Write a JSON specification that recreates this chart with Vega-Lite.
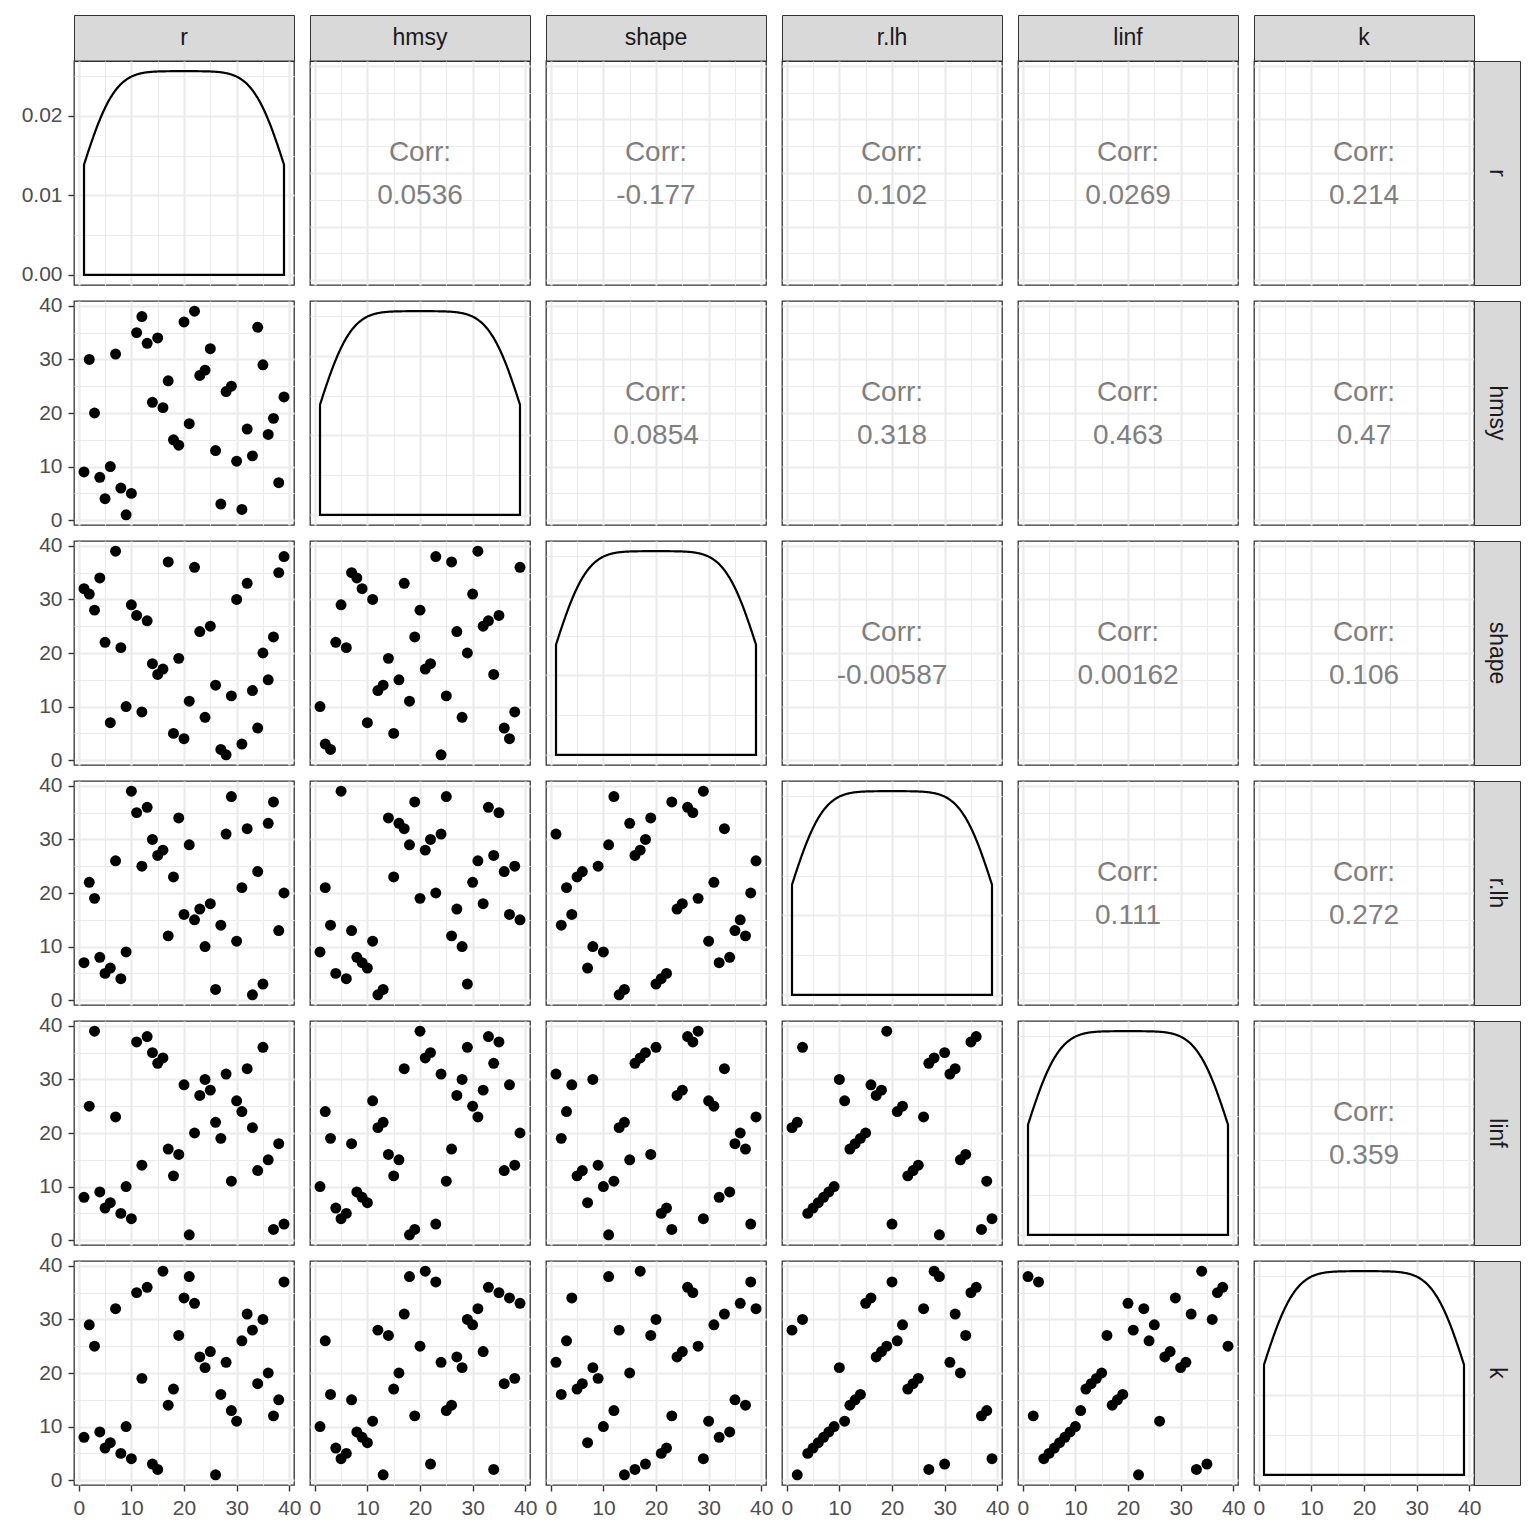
{
"$schema": "https://vega.github.io/schema/vega-lite/v6.json",
"padding": {"left": 20, "top": 14, "right": 15, "bottom": 5},
"columns": 12,
"spacing": 0,
"align": "each",
"bounds": "flush",
"datasets": {"d": [
{"r":1,"hmsy":9,"shape":32,"rlh":7,"linf":8,"k":8},
{"r":2,"hmsy":30,"shape":31,"rlh":22,"linf":25,"k":29},
{"r":3,"hmsy":20,"shape":28,"rlh":19,"linf":39,"k":25},
{"r":4,"hmsy":8,"shape":34,"rlh":8,"linf":9,"k":9},
{"r":5,"hmsy":4,"shape":22,"rlh":5,"linf":6,"k":6},
{"r":6,"hmsy":10,"shape":7,"rlh":6,"linf":7,"k":7},
{"r":7,"hmsy":31,"shape":39,"rlh":26,"linf":23,"k":32},
{"r":8,"hmsy":6,"shape":21,"rlh":4,"linf":5,"k":5},
{"r":9,"hmsy":1,"shape":10,"rlh":9,"linf":10,"k":10},
{"r":10,"hmsy":5,"shape":29,"rlh":39,"linf":4,"k":4},
{"r":11,"hmsy":35,"shape":27,"rlh":35,"linf":37,"k":35},
{"r":12,"hmsy":38,"shape":9,"rlh":25,"linf":14,"k":19},
{"r":13,"hmsy":33,"shape":26,"rlh":36,"linf":38,"k":36},
{"r":14,"hmsy":22,"shape":18,"rlh":30,"linf":35,"k":3},
{"r":15,"hmsy":34,"shape":16,"rlh":27,"linf":33,"k":2},
{"r":16,"hmsy":21,"shape":17,"rlh":28,"linf":34,"k":39},
{"r":17,"hmsy":26,"shape":37,"rlh":12,"linf":17,"k":14},
{"r":18,"hmsy":15,"shape":5,"rlh":23,"linf":12,"k":17},
{"r":19,"hmsy":14,"shape":19,"rlh":34,"linf":16,"k":27},
{"r":20,"hmsy":37,"shape":4,"rlh":16,"linf":29,"k":34},
{"r":21,"hmsy":18,"shape":11,"rlh":29,"linf":1,"k":38},
{"r":22,"hmsy":39,"shape":36,"rlh":15,"linf":20,"k":33},
{"r":23,"hmsy":27,"shape":24,"rlh":17,"linf":27,"k":23},
{"r":24,"hmsy":28,"shape":8,"rlh":10,"linf":30,"k":21},
{"r":25,"hmsy":32,"shape":25,"rlh":18,"linf":28,"k":24},
{"r":26,"hmsy":13,"shape":14,"rlh":2,"linf":22,"k":1},
{"r":27,"hmsy":3,"shape":2,"rlh":14,"linf":19,"k":16},
{"r":28,"hmsy":24,"shape":1,"rlh":31,"linf":31,"k":22},
{"r":29,"hmsy":25,"shape":12,"rlh":38,"linf":11,"k":13},
{"r":30,"hmsy":11,"shape":30,"rlh":11,"linf":26,"k":11},
{"r":31,"hmsy":2,"shape":3,"rlh":21,"linf":24,"k":26},
{"r":32,"hmsy":17,"shape":33,"rlh":32,"linf":32,"k":31},
{"r":33,"hmsy":12,"shape":13,"rlh":1,"linf":21,"k":28},
{"r":34,"hmsy":36,"shape":6,"rlh":24,"linf":13,"k":18},
{"r":35,"hmsy":29,"shape":20,"rlh":3,"linf":36,"k":30},
{"r":36,"hmsy":16,"shape":15,"rlh":33,"linf":15,"k":20},
{"r":37,"hmsy":19,"shape":23,"rlh":37,"linf":2,"k":12},
{"r":38,"hmsy":7,"shape":35,"rlh":13,"linf":18,"k":15},
{"r":39,"hmsy":23,"shape":38,"rlh":20,"linf":3,"k":37}
]},
"concat": [
{"data":{"values":[{"t":"r"}]},"mark":{"type":"text","fontSize":23,"color":"#1A1A1A"},"encoding":{"text":{"field":"t"}},"width":220,"height":46,"view":{"fill":"#D9D9D9","stroke":"#333333"}},
{"data":{"values":[]},"mark":"point","width":16,"height":16,"view":{"stroke":null}},
{"data":{"values":[{"t":"hmsy"}]},"mark":{"type":"text","fontSize":23,"color":"#1A1A1A"},"encoding":{"text":{"field":"t"}},"width":220,"height":46,"view":{"fill":"#D9D9D9","stroke":"#333333"}},
{"data":{"values":[]},"mark":"point","width":16,"height":16,"view":{"stroke":null}},
{"data":{"values":[{"t":"shape"}]},"mark":{"type":"text","fontSize":23,"color":"#1A1A1A"},"encoding":{"text":{"field":"t"}},"width":220,"height":46,"view":{"fill":"#D9D9D9","stroke":"#333333"}},
{"data":{"values":[]},"mark":"point","width":16,"height":16,"view":{"stroke":null}},
{"data":{"values":[{"t":"r.lh"}]},"mark":{"type":"text","fontSize":23,"color":"#1A1A1A"},"encoding":{"text":{"field":"t"}},"width":220,"height":46,"view":{"fill":"#D9D9D9","stroke":"#333333"}},
{"data":{"values":[]},"mark":"point","width":16,"height":16,"view":{"stroke":null}},
{"data":{"values":[{"t":"linf"}]},"mark":{"type":"text","fontSize":23,"color":"#1A1A1A"},"encoding":{"text":{"field":"t"}},"width":220,"height":46,"view":{"fill":"#D9D9D9","stroke":"#333333"}},
{"data":{"values":[]},"mark":"point","width":16,"height":16,"view":{"stroke":null}},
{"data":{"values":[{"t":"k"}]},"mark":{"type":"text","fontSize":23,"color":"#1A1A1A"},"encoding":{"text":{"field":"t"}},"width":220,"height":46,"view":{"fill":"#D9D9D9","stroke":"#333333"}},
{"data":{"values":[]},"mark":"point","width":16,"height":16,"view":{"stroke":null}},

{"data":{"name":"d"},"transform":[{"density":"r","bandwidth":4.93,"extent":[1,39],"steps":300}],"mark":{"type":"area","fillOpacity":0,"stroke":"#000000","strokeWidth":2.2},"encoding":{"x":{"field":"value","type":"quantitative","scale":{"domain":[-0.9,40.9],"nice":false,"zero":false},"axis":{"title":null,"values":[0,5,10,15,20,25,30,35,40],"labels":false,"ticks":false,"gridWidth":{"condition":{"test":"datum.value % 10 === 0","value":2.2},"value":1.1}}},"y":{"field":"density","type":"quantitative","scale":{"domain":[-0.00128,0.02692],"nice":false,"zero":false},"axis":{"title":null,"values":[0,0.005,0.01,0.015,0.02,0.025],"format":".2f","labelExpr":"round(datum.value*1000) % 10 === 0 ? datum.label : ''","tickOpacity":{"condition":{"test":"round(datum.value*1000) % 10 === 0","value":1},"value":0},"gridWidth":{"condition":{"test":"round(datum.value*1000) % 10 === 0","value":2.2},"value":1.1}}},"y2":{"datum":0}}},
{"data":{"values":[]},"mark":"point","width":16,"height":16,"view":{"stroke":null}},
{"layer":[{"data":{"name":"d"},"mark":{"type":"circle","opacity":0},"encoding":{"x":{"field":"hmsy","type":"quantitative","scale":{"domain":[-0.9,40.9],"nice":false,"zero":false},"axis":{"title":null,"values":[0,5,10,15,20,25,30,35,40],"labels":false,"ticks":false,"gridWidth":{"condition":{"test":"datum.value % 10 === 0","value":2.2},"value":1.1}}},"y":{"field":"r","type":"quantitative","scale":{"domain":[-0.9,40.9],"nice":false,"zero":false},"axis":{"title":null,"values":[0,5,10,15,20,25,30,35,40],"labels":false,"ticks":false,"gridWidth":{"condition":{"test":"datum.value % 10 === 0","value":2.2},"value":1.1}}}}},{"data":{"values":[{"t":"Corr:\n0.0536"}]},"mark":{"type":"text","fontSize":28,"color":"#7F7F7F","lineBreak":"\n","lineHeight":43,"baseline":"middle","dy":-20},"encoding":{"text":{"field":"t"}}}]},
{"data":{"values":[]},"mark":"point","width":16,"height":16,"view":{"stroke":null}},
{"layer":[{"data":{"name":"d"},"mark":{"type":"circle","opacity":0},"encoding":{"x":{"field":"shape","type":"quantitative","scale":{"domain":[-0.9,40.9],"nice":false,"zero":false},"axis":{"title":null,"values":[0,5,10,15,20,25,30,35,40],"labels":false,"ticks":false,"gridWidth":{"condition":{"test":"datum.value % 10 === 0","value":2.2},"value":1.1}}},"y":{"field":"r","type":"quantitative","scale":{"domain":[-0.9,40.9],"nice":false,"zero":false},"axis":{"title":null,"values":[0,5,10,15,20,25,30,35,40],"labels":false,"ticks":false,"gridWidth":{"condition":{"test":"datum.value % 10 === 0","value":2.2},"value":1.1}}}}},{"data":{"values":[{"t":"Corr:\n-0.177"}]},"mark":{"type":"text","fontSize":28,"color":"#7F7F7F","lineBreak":"\n","lineHeight":43,"baseline":"middle","dy":-20},"encoding":{"text":{"field":"t"}}}]},
{"data":{"values":[]},"mark":"point","width":16,"height":16,"view":{"stroke":null}},
{"layer":[{"data":{"name":"d"},"mark":{"type":"circle","opacity":0},"encoding":{"x":{"field":"rlh","type":"quantitative","scale":{"domain":[-0.9,40.9],"nice":false,"zero":false},"axis":{"title":null,"values":[0,5,10,15,20,25,30,35,40],"labels":false,"ticks":false,"gridWidth":{"condition":{"test":"datum.value % 10 === 0","value":2.2},"value":1.1}}},"y":{"field":"r","type":"quantitative","scale":{"domain":[-0.9,40.9],"nice":false,"zero":false},"axis":{"title":null,"values":[0,5,10,15,20,25,30,35,40],"labels":false,"ticks":false,"gridWidth":{"condition":{"test":"datum.value % 10 === 0","value":2.2},"value":1.1}}}}},{"data":{"values":[{"t":"Corr:\n0.102"}]},"mark":{"type":"text","fontSize":28,"color":"#7F7F7F","lineBreak":"\n","lineHeight":43,"baseline":"middle","dy":-20},"encoding":{"text":{"field":"t"}}}]},
{"data":{"values":[]},"mark":"point","width":16,"height":16,"view":{"stroke":null}},
{"layer":[{"data":{"name":"d"},"mark":{"type":"circle","opacity":0},"encoding":{"x":{"field":"linf","type":"quantitative","scale":{"domain":[-0.9,40.9],"nice":false,"zero":false},"axis":{"title":null,"values":[0,5,10,15,20,25,30,35,40],"labels":false,"ticks":false,"gridWidth":{"condition":{"test":"datum.value % 10 === 0","value":2.2},"value":1.1}}},"y":{"field":"r","type":"quantitative","scale":{"domain":[-0.9,40.9],"nice":false,"zero":false},"axis":{"title":null,"values":[0,5,10,15,20,25,30,35,40],"labels":false,"ticks":false,"gridWidth":{"condition":{"test":"datum.value % 10 === 0","value":2.2},"value":1.1}}}}},{"data":{"values":[{"t":"Corr:\n0.0269"}]},"mark":{"type":"text","fontSize":28,"color":"#7F7F7F","lineBreak":"\n","lineHeight":43,"baseline":"middle","dy":-20},"encoding":{"text":{"field":"t"}}}]},
{"data":{"values":[]},"mark":"point","width":16,"height":16,"view":{"stroke":null}},
{"layer":[{"data":{"name":"d"},"mark":{"type":"circle","opacity":0},"encoding":{"x":{"field":"k","type":"quantitative","scale":{"domain":[-0.9,40.9],"nice":false,"zero":false},"axis":{"title":null,"values":[0,5,10,15,20,25,30,35,40],"labels":false,"ticks":false,"gridWidth":{"condition":{"test":"datum.value % 10 === 0","value":2.2},"value":1.1}}},"y":{"field":"r","type":"quantitative","scale":{"domain":[-0.9,40.9],"nice":false,"zero":false},"axis":{"title":null,"values":[0,5,10,15,20,25,30,35,40],"labels":false,"ticks":false,"gridWidth":{"condition":{"test":"datum.value % 10 === 0","value":2.2},"value":1.1}}}}},{"data":{"values":[{"t":"Corr:\n0.214"}]},"mark":{"type":"text","fontSize":28,"color":"#7F7F7F","lineBreak":"\n","lineHeight":43,"baseline":"middle","dy":-20},"encoding":{"text":{"field":"t"}}}]},
{"data":{"values":[{"t":"r"}]},"mark":{"type":"text","fontSize":23,"color":"#1A1A1A","angle":90},"encoding":{"text":{"field":"t"}},"width":46,"height":224,"view":{"fill":"#D9D9D9","stroke":"#333333"}},

{"data":{"values":[]},"mark":"point","width":16,"height":16,"view":{"stroke":null}},
{"data":{"values":[]},"mark":"point","width":16,"height":16,"view":{"stroke":null}},
{"data":{"values":[]},"mark":"point","width":16,"height":16,"view":{"stroke":null}},
{"data":{"values":[]},"mark":"point","width":16,"height":16,"view":{"stroke":null}},
{"data":{"values":[]},"mark":"point","width":16,"height":16,"view":{"stroke":null}},
{"data":{"values":[]},"mark":"point","width":16,"height":16,"view":{"stroke":null}},
{"data":{"values":[]},"mark":"point","width":16,"height":16,"view":{"stroke":null}},
{"data":{"values":[]},"mark":"point","width":16,"height":16,"view":{"stroke":null}},
{"data":{"values":[]},"mark":"point","width":16,"height":16,"view":{"stroke":null}},
{"data":{"values":[]},"mark":"point","width":16,"height":16,"view":{"stroke":null}},
{"data":{"values":[]},"mark":"point","width":16,"height":16,"view":{"stroke":null}},
{"data":{"values":[]},"mark":"point","width":16,"height":16,"view":{"stroke":null}},

{"data":{"name":"d"},"mark":{"type":"circle","size":120,"color":"#000000","opacity":1},"encoding":{"x":{"field":"r","type":"quantitative","scale":{"domain":[-0.9,40.9],"nice":false,"zero":false},"axis":{"title":null,"values":[0,5,10,15,20,25,30,35,40],"labels":false,"ticks":false,"gridWidth":{"condition":{"test":"datum.value % 10 === 0","value":2.2},"value":1.1}}},"y":{"field":"hmsy","type":"quantitative","scale":{"domain":[-0.9,40.9],"nice":false,"zero":false},"axis":{"title":null,"values":[0,5,10,15,20,25,30,35,40],"labelExpr":"datum.value % 10 === 0 ? datum.label : ''","tickOpacity":{"condition":{"test":"datum.value % 10 === 0","value":1},"value":0},"gridWidth":{"condition":{"test":"datum.value % 10 === 0","value":2.2},"value":1.1}}}}},
{"data":{"values":[]},"mark":"point","width":16,"height":16,"view":{"stroke":null}},
{"data":{"name":"d"},"transform":[{"density":"hmsy","bandwidth":4.93,"extent":[1,39],"steps":300}],"mark":{"type":"area","fillOpacity":0,"stroke":"#000000","strokeWidth":2.2},"encoding":{"x":{"field":"value","type":"quantitative","scale":{"domain":[-0.9,40.9],"nice":false,"zero":false},"axis":{"title":null,"values":[0,5,10,15,20,25,30,35,40],"labels":false,"ticks":false,"gridWidth":{"condition":{"test":"datum.value % 10 === 0","value":2.2},"value":1.1}}},"y":{"field":"density","type":"quantitative","scale":{"domain":[-0.00128,0.02692],"nice":false,"zero":false},"axis":{"title":null,"values":[0,0.005,0.01,0.015,0.02,0.025],"labels":false,"ticks":false,"gridWidth":{"condition":{"test":"round(datum.value*1000) % 10 === 0","value":2.2},"value":1.1}}},"y2":{"datum":0}}},
{"data":{"values":[]},"mark":"point","width":16,"height":16,"view":{"stroke":null}},
{"layer":[{"data":{"name":"d"},"mark":{"type":"circle","opacity":0},"encoding":{"x":{"field":"shape","type":"quantitative","scale":{"domain":[-0.9,40.9],"nice":false,"zero":false},"axis":{"title":null,"values":[0,5,10,15,20,25,30,35,40],"labels":false,"ticks":false,"gridWidth":{"condition":{"test":"datum.value % 10 === 0","value":2.2},"value":1.1}}},"y":{"field":"hmsy","type":"quantitative","scale":{"domain":[-0.9,40.9],"nice":false,"zero":false},"axis":{"title":null,"values":[0,5,10,15,20,25,30,35,40],"labels":false,"ticks":false,"gridWidth":{"condition":{"test":"datum.value % 10 === 0","value":2.2},"value":1.1}}}}},{"data":{"values":[{"t":"Corr:\n0.0854"}]},"mark":{"type":"text","fontSize":28,"color":"#7F7F7F","lineBreak":"\n","lineHeight":43,"baseline":"middle","dy":-20},"encoding":{"text":{"field":"t"}}}]},
{"data":{"values":[]},"mark":"point","width":16,"height":16,"view":{"stroke":null}},
{"layer":[{"data":{"name":"d"},"mark":{"type":"circle","opacity":0},"encoding":{"x":{"field":"rlh","type":"quantitative","scale":{"domain":[-0.9,40.9],"nice":false,"zero":false},"axis":{"title":null,"values":[0,5,10,15,20,25,30,35,40],"labels":false,"ticks":false,"gridWidth":{"condition":{"test":"datum.value % 10 === 0","value":2.2},"value":1.1}}},"y":{"field":"hmsy","type":"quantitative","scale":{"domain":[-0.9,40.9],"nice":false,"zero":false},"axis":{"title":null,"values":[0,5,10,15,20,25,30,35,40],"labels":false,"ticks":false,"gridWidth":{"condition":{"test":"datum.value % 10 === 0","value":2.2},"value":1.1}}}}},{"data":{"values":[{"t":"Corr:\n0.318"}]},"mark":{"type":"text","fontSize":28,"color":"#7F7F7F","lineBreak":"\n","lineHeight":43,"baseline":"middle","dy":-20},"encoding":{"text":{"field":"t"}}}]},
{"data":{"values":[]},"mark":"point","width":16,"height":16,"view":{"stroke":null}},
{"layer":[{"data":{"name":"d"},"mark":{"type":"circle","opacity":0},"encoding":{"x":{"field":"linf","type":"quantitative","scale":{"domain":[-0.9,40.9],"nice":false,"zero":false},"axis":{"title":null,"values":[0,5,10,15,20,25,30,35,40],"labels":false,"ticks":false,"gridWidth":{"condition":{"test":"datum.value % 10 === 0","value":2.2},"value":1.1}}},"y":{"field":"hmsy","type":"quantitative","scale":{"domain":[-0.9,40.9],"nice":false,"zero":false},"axis":{"title":null,"values":[0,5,10,15,20,25,30,35,40],"labels":false,"ticks":false,"gridWidth":{"condition":{"test":"datum.value % 10 === 0","value":2.2},"value":1.1}}}}},{"data":{"values":[{"t":"Corr:\n0.463"}]},"mark":{"type":"text","fontSize":28,"color":"#7F7F7F","lineBreak":"\n","lineHeight":43,"baseline":"middle","dy":-20},"encoding":{"text":{"field":"t"}}}]},
{"data":{"values":[]},"mark":"point","width":16,"height":16,"view":{"stroke":null}},
{"layer":[{"data":{"name":"d"},"mark":{"type":"circle","opacity":0},"encoding":{"x":{"field":"k","type":"quantitative","scale":{"domain":[-0.9,40.9],"nice":false,"zero":false},"axis":{"title":null,"values":[0,5,10,15,20,25,30,35,40],"labels":false,"ticks":false,"gridWidth":{"condition":{"test":"datum.value % 10 === 0","value":2.2},"value":1.1}}},"y":{"field":"hmsy","type":"quantitative","scale":{"domain":[-0.9,40.9],"nice":false,"zero":false},"axis":{"title":null,"values":[0,5,10,15,20,25,30,35,40],"labels":false,"ticks":false,"gridWidth":{"condition":{"test":"datum.value % 10 === 0","value":2.2},"value":1.1}}}}},{"data":{"values":[{"t":"Corr:\n0.47"}]},"mark":{"type":"text","fontSize":28,"color":"#7F7F7F","lineBreak":"\n","lineHeight":43,"baseline":"middle","dy":-20},"encoding":{"text":{"field":"t"}}}]},
{"data":{"values":[{"t":"hmsy"}]},"mark":{"type":"text","fontSize":23,"color":"#1A1A1A","angle":90},"encoding":{"text":{"field":"t"}},"width":46,"height":224,"view":{"fill":"#D9D9D9","stroke":"#333333"}},

{"data":{"values":[]},"mark":"point","width":16,"height":16,"view":{"stroke":null}},
{"data":{"values":[]},"mark":"point","width":16,"height":16,"view":{"stroke":null}},
{"data":{"values":[]},"mark":"point","width":16,"height":16,"view":{"stroke":null}},
{"data":{"values":[]},"mark":"point","width":16,"height":16,"view":{"stroke":null}},
{"data":{"values":[]},"mark":"point","width":16,"height":16,"view":{"stroke":null}},
{"data":{"values":[]},"mark":"point","width":16,"height":16,"view":{"stroke":null}},
{"data":{"values":[]},"mark":"point","width":16,"height":16,"view":{"stroke":null}},
{"data":{"values":[]},"mark":"point","width":16,"height":16,"view":{"stroke":null}},
{"data":{"values":[]},"mark":"point","width":16,"height":16,"view":{"stroke":null}},
{"data":{"values":[]},"mark":"point","width":16,"height":16,"view":{"stroke":null}},
{"data":{"values":[]},"mark":"point","width":16,"height":16,"view":{"stroke":null}},
{"data":{"values":[]},"mark":"point","width":16,"height":16,"view":{"stroke":null}},

{"data":{"name":"d"},"mark":{"type":"circle","size":120,"color":"#000000","opacity":1},"encoding":{"x":{"field":"r","type":"quantitative","scale":{"domain":[-0.9,40.9],"nice":false,"zero":false},"axis":{"title":null,"values":[0,5,10,15,20,25,30,35,40],"labels":false,"ticks":false,"gridWidth":{"condition":{"test":"datum.value % 10 === 0","value":2.2},"value":1.1}}},"y":{"field":"shape","type":"quantitative","scale":{"domain":[-0.9,40.9],"nice":false,"zero":false},"axis":{"title":null,"values":[0,5,10,15,20,25,30,35,40],"labelExpr":"datum.value % 10 === 0 ? datum.label : ''","tickOpacity":{"condition":{"test":"datum.value % 10 === 0","value":1},"value":0},"gridWidth":{"condition":{"test":"datum.value % 10 === 0","value":2.2},"value":1.1}}}}},
{"data":{"values":[]},"mark":"point","width":16,"height":16,"view":{"stroke":null}},
{"data":{"name":"d"},"mark":{"type":"circle","size":120,"color":"#000000","opacity":1},"encoding":{"x":{"field":"hmsy","type":"quantitative","scale":{"domain":[-0.9,40.9],"nice":false,"zero":false},"axis":{"title":null,"values":[0,5,10,15,20,25,30,35,40],"labels":false,"ticks":false,"gridWidth":{"condition":{"test":"datum.value % 10 === 0","value":2.2},"value":1.1}}},"y":{"field":"shape","type":"quantitative","scale":{"domain":[-0.9,40.9],"nice":false,"zero":false},"axis":{"title":null,"values":[0,5,10,15,20,25,30,35,40],"labels":false,"ticks":false,"gridWidth":{"condition":{"test":"datum.value % 10 === 0","value":2.2},"value":1.1}}}}},
{"data":{"values":[]},"mark":"point","width":16,"height":16,"view":{"stroke":null}},
{"data":{"name":"d"},"transform":[{"density":"shape","bandwidth":4.93,"extent":[1,39],"steps":300}],"mark":{"type":"area","fillOpacity":0,"stroke":"#000000","strokeWidth":2.2},"encoding":{"x":{"field":"value","type":"quantitative","scale":{"domain":[-0.9,40.9],"nice":false,"zero":false},"axis":{"title":null,"values":[0,5,10,15,20,25,30,35,40],"labels":false,"ticks":false,"gridWidth":{"condition":{"test":"datum.value % 10 === 0","value":2.2},"value":1.1}}},"y":{"field":"density","type":"quantitative","scale":{"domain":[-0.00128,0.02692],"nice":false,"zero":false},"axis":{"title":null,"values":[0,0.005,0.01,0.015,0.02,0.025],"labels":false,"ticks":false,"gridWidth":{"condition":{"test":"round(datum.value*1000) % 10 === 0","value":2.2},"value":1.1}}},"y2":{"datum":0}}},
{"data":{"values":[]},"mark":"point","width":16,"height":16,"view":{"stroke":null}},
{"layer":[{"data":{"name":"d"},"mark":{"type":"circle","opacity":0},"encoding":{"x":{"field":"rlh","type":"quantitative","scale":{"domain":[-0.9,40.9],"nice":false,"zero":false},"axis":{"title":null,"values":[0,5,10,15,20,25,30,35,40],"labels":false,"ticks":false,"gridWidth":{"condition":{"test":"datum.value % 10 === 0","value":2.2},"value":1.1}}},"y":{"field":"shape","type":"quantitative","scale":{"domain":[-0.9,40.9],"nice":false,"zero":false},"axis":{"title":null,"values":[0,5,10,15,20,25,30,35,40],"labels":false,"ticks":false,"gridWidth":{"condition":{"test":"datum.value % 10 === 0","value":2.2},"value":1.1}}}}},{"data":{"values":[{"t":"Corr:\n-0.00587"}]},"mark":{"type":"text","fontSize":28,"color":"#7F7F7F","lineBreak":"\n","lineHeight":43,"baseline":"middle","dy":-20},"encoding":{"text":{"field":"t"}}}]},
{"data":{"values":[]},"mark":"point","width":16,"height":16,"view":{"stroke":null}},
{"layer":[{"data":{"name":"d"},"mark":{"type":"circle","opacity":0},"encoding":{"x":{"field":"linf","type":"quantitative","scale":{"domain":[-0.9,40.9],"nice":false,"zero":false},"axis":{"title":null,"values":[0,5,10,15,20,25,30,35,40],"labels":false,"ticks":false,"gridWidth":{"condition":{"test":"datum.value % 10 === 0","value":2.2},"value":1.1}}},"y":{"field":"shape","type":"quantitative","scale":{"domain":[-0.9,40.9],"nice":false,"zero":false},"axis":{"title":null,"values":[0,5,10,15,20,25,30,35,40],"labels":false,"ticks":false,"gridWidth":{"condition":{"test":"datum.value % 10 === 0","value":2.2},"value":1.1}}}}},{"data":{"values":[{"t":"Corr:\n0.00162"}]},"mark":{"type":"text","fontSize":28,"color":"#7F7F7F","lineBreak":"\n","lineHeight":43,"baseline":"middle","dy":-20},"encoding":{"text":{"field":"t"}}}]},
{"data":{"values":[]},"mark":"point","width":16,"height":16,"view":{"stroke":null}},
{"layer":[{"data":{"name":"d"},"mark":{"type":"circle","opacity":0},"encoding":{"x":{"field":"k","type":"quantitative","scale":{"domain":[-0.9,40.9],"nice":false,"zero":false},"axis":{"title":null,"values":[0,5,10,15,20,25,30,35,40],"labels":false,"ticks":false,"gridWidth":{"condition":{"test":"datum.value % 10 === 0","value":2.2},"value":1.1}}},"y":{"field":"shape","type":"quantitative","scale":{"domain":[-0.9,40.9],"nice":false,"zero":false},"axis":{"title":null,"values":[0,5,10,15,20,25,30,35,40],"labels":false,"ticks":false,"gridWidth":{"condition":{"test":"datum.value % 10 === 0","value":2.2},"value":1.1}}}}},{"data":{"values":[{"t":"Corr:\n0.106"}]},"mark":{"type":"text","fontSize":28,"color":"#7F7F7F","lineBreak":"\n","lineHeight":43,"baseline":"middle","dy":-20},"encoding":{"text":{"field":"t"}}}]},
{"data":{"values":[{"t":"shape"}]},"mark":{"type":"text","fontSize":23,"color":"#1A1A1A","angle":90},"encoding":{"text":{"field":"t"}},"width":46,"height":224,"view":{"fill":"#D9D9D9","stroke":"#333333"}},

{"data":{"values":[]},"mark":"point","width":16,"height":16,"view":{"stroke":null}},
{"data":{"values":[]},"mark":"point","width":16,"height":16,"view":{"stroke":null}},
{"data":{"values":[]},"mark":"point","width":16,"height":16,"view":{"stroke":null}},
{"data":{"values":[]},"mark":"point","width":16,"height":16,"view":{"stroke":null}},
{"data":{"values":[]},"mark":"point","width":16,"height":16,"view":{"stroke":null}},
{"data":{"values":[]},"mark":"point","width":16,"height":16,"view":{"stroke":null}},
{"data":{"values":[]},"mark":"point","width":16,"height":16,"view":{"stroke":null}},
{"data":{"values":[]},"mark":"point","width":16,"height":16,"view":{"stroke":null}},
{"data":{"values":[]},"mark":"point","width":16,"height":16,"view":{"stroke":null}},
{"data":{"values":[]},"mark":"point","width":16,"height":16,"view":{"stroke":null}},
{"data":{"values":[]},"mark":"point","width":16,"height":16,"view":{"stroke":null}},
{"data":{"values":[]},"mark":"point","width":16,"height":16,"view":{"stroke":null}},

{"data":{"name":"d"},"mark":{"type":"circle","size":120,"color":"#000000","opacity":1},"encoding":{"x":{"field":"r","type":"quantitative","scale":{"domain":[-0.9,40.9],"nice":false,"zero":false},"axis":{"title":null,"values":[0,5,10,15,20,25,30,35,40],"labels":false,"ticks":false,"gridWidth":{"condition":{"test":"datum.value % 10 === 0","value":2.2},"value":1.1}}},"y":{"field":"rlh","type":"quantitative","scale":{"domain":[-0.9,40.9],"nice":false,"zero":false},"axis":{"title":null,"values":[0,5,10,15,20,25,30,35,40],"labelExpr":"datum.value % 10 === 0 ? datum.label : ''","tickOpacity":{"condition":{"test":"datum.value % 10 === 0","value":1},"value":0},"gridWidth":{"condition":{"test":"datum.value % 10 === 0","value":2.2},"value":1.1}}}}},
{"data":{"values":[]},"mark":"point","width":16,"height":16,"view":{"stroke":null}},
{"data":{"name":"d"},"mark":{"type":"circle","size":120,"color":"#000000","opacity":1},"encoding":{"x":{"field":"hmsy","type":"quantitative","scale":{"domain":[-0.9,40.9],"nice":false,"zero":false},"axis":{"title":null,"values":[0,5,10,15,20,25,30,35,40],"labels":false,"ticks":false,"gridWidth":{"condition":{"test":"datum.value % 10 === 0","value":2.2},"value":1.1}}},"y":{"field":"rlh","type":"quantitative","scale":{"domain":[-0.9,40.9],"nice":false,"zero":false},"axis":{"title":null,"values":[0,5,10,15,20,25,30,35,40],"labels":false,"ticks":false,"gridWidth":{"condition":{"test":"datum.value % 10 === 0","value":2.2},"value":1.1}}}}},
{"data":{"values":[]},"mark":"point","width":16,"height":16,"view":{"stroke":null}},
{"data":{"name":"d"},"mark":{"type":"circle","size":120,"color":"#000000","opacity":1},"encoding":{"x":{"field":"shape","type":"quantitative","scale":{"domain":[-0.9,40.9],"nice":false,"zero":false},"axis":{"title":null,"values":[0,5,10,15,20,25,30,35,40],"labels":false,"ticks":false,"gridWidth":{"condition":{"test":"datum.value % 10 === 0","value":2.2},"value":1.1}}},"y":{"field":"rlh","type":"quantitative","scale":{"domain":[-0.9,40.9],"nice":false,"zero":false},"axis":{"title":null,"values":[0,5,10,15,20,25,30,35,40],"labels":false,"ticks":false,"gridWidth":{"condition":{"test":"datum.value % 10 === 0","value":2.2},"value":1.1}}}}},
{"data":{"values":[]},"mark":"point","width":16,"height":16,"view":{"stroke":null}},
{"data":{"name":"d"},"transform":[{"density":"rlh","bandwidth":4.93,"extent":[1,39],"steps":300}],"mark":{"type":"area","fillOpacity":0,"stroke":"#000000","strokeWidth":2.2},"encoding":{"x":{"field":"value","type":"quantitative","scale":{"domain":[-0.9,40.9],"nice":false,"zero":false},"axis":{"title":null,"values":[0,5,10,15,20,25,30,35,40],"labels":false,"ticks":false,"gridWidth":{"condition":{"test":"datum.value % 10 === 0","value":2.2},"value":1.1}}},"y":{"field":"density","type":"quantitative","scale":{"domain":[-0.00128,0.02692],"nice":false,"zero":false},"axis":{"title":null,"values":[0,0.005,0.01,0.015,0.02,0.025],"labels":false,"ticks":false,"gridWidth":{"condition":{"test":"round(datum.value*1000) % 10 === 0","value":2.2},"value":1.1}}},"y2":{"datum":0}}},
{"data":{"values":[]},"mark":"point","width":16,"height":16,"view":{"stroke":null}},
{"layer":[{"data":{"name":"d"},"mark":{"type":"circle","opacity":0},"encoding":{"x":{"field":"linf","type":"quantitative","scale":{"domain":[-0.9,40.9],"nice":false,"zero":false},"axis":{"title":null,"values":[0,5,10,15,20,25,30,35,40],"labels":false,"ticks":false,"gridWidth":{"condition":{"test":"datum.value % 10 === 0","value":2.2},"value":1.1}}},"y":{"field":"rlh","type":"quantitative","scale":{"domain":[-0.9,40.9],"nice":false,"zero":false},"axis":{"title":null,"values":[0,5,10,15,20,25,30,35,40],"labels":false,"ticks":false,"gridWidth":{"condition":{"test":"datum.value % 10 === 0","value":2.2},"value":1.1}}}}},{"data":{"values":[{"t":"Corr:\n0.111"}]},"mark":{"type":"text","fontSize":28,"color":"#7F7F7F","lineBreak":"\n","lineHeight":43,"baseline":"middle","dy":-20},"encoding":{"text":{"field":"t"}}}]},
{"data":{"values":[]},"mark":"point","width":16,"height":16,"view":{"stroke":null}},
{"layer":[{"data":{"name":"d"},"mark":{"type":"circle","opacity":0},"encoding":{"x":{"field":"k","type":"quantitative","scale":{"domain":[-0.9,40.9],"nice":false,"zero":false},"axis":{"title":null,"values":[0,5,10,15,20,25,30,35,40],"labels":false,"ticks":false,"gridWidth":{"condition":{"test":"datum.value % 10 === 0","value":2.2},"value":1.1}}},"y":{"field":"rlh","type":"quantitative","scale":{"domain":[-0.9,40.9],"nice":false,"zero":false},"axis":{"title":null,"values":[0,5,10,15,20,25,30,35,40],"labels":false,"ticks":false,"gridWidth":{"condition":{"test":"datum.value % 10 === 0","value":2.2},"value":1.1}}}}},{"data":{"values":[{"t":"Corr:\n0.272"}]},"mark":{"type":"text","fontSize":28,"color":"#7F7F7F","lineBreak":"\n","lineHeight":43,"baseline":"middle","dy":-20},"encoding":{"text":{"field":"t"}}}]},
{"data":{"values":[{"t":"r.lh"}]},"mark":{"type":"text","fontSize":23,"color":"#1A1A1A","angle":90},"encoding":{"text":{"field":"t"}},"width":46,"height":224,"view":{"fill":"#D9D9D9","stroke":"#333333"}},

{"data":{"values":[]},"mark":"point","width":16,"height":16,"view":{"stroke":null}},
{"data":{"values":[]},"mark":"point","width":16,"height":16,"view":{"stroke":null}},
{"data":{"values":[]},"mark":"point","width":16,"height":16,"view":{"stroke":null}},
{"data":{"values":[]},"mark":"point","width":16,"height":16,"view":{"stroke":null}},
{"data":{"values":[]},"mark":"point","width":16,"height":16,"view":{"stroke":null}},
{"data":{"values":[]},"mark":"point","width":16,"height":16,"view":{"stroke":null}},
{"data":{"values":[]},"mark":"point","width":16,"height":16,"view":{"stroke":null}},
{"data":{"values":[]},"mark":"point","width":16,"height":16,"view":{"stroke":null}},
{"data":{"values":[]},"mark":"point","width":16,"height":16,"view":{"stroke":null}},
{"data":{"values":[]},"mark":"point","width":16,"height":16,"view":{"stroke":null}},
{"data":{"values":[]},"mark":"point","width":16,"height":16,"view":{"stroke":null}},
{"data":{"values":[]},"mark":"point","width":16,"height":16,"view":{"stroke":null}},

{"data":{"name":"d"},"mark":{"type":"circle","size":120,"color":"#000000","opacity":1},"encoding":{"x":{"field":"r","type":"quantitative","scale":{"domain":[-0.9,40.9],"nice":false,"zero":false},"axis":{"title":null,"values":[0,5,10,15,20,25,30,35,40],"labels":false,"ticks":false,"gridWidth":{"condition":{"test":"datum.value % 10 === 0","value":2.2},"value":1.1}}},"y":{"field":"linf","type":"quantitative","scale":{"domain":[-0.9,40.9],"nice":false,"zero":false},"axis":{"title":null,"values":[0,5,10,15,20,25,30,35,40],"labelExpr":"datum.value % 10 === 0 ? datum.label : ''","tickOpacity":{"condition":{"test":"datum.value % 10 === 0","value":1},"value":0},"gridWidth":{"condition":{"test":"datum.value % 10 === 0","value":2.2},"value":1.1}}}}},
{"data":{"values":[]},"mark":"point","width":16,"height":16,"view":{"stroke":null}},
{"data":{"name":"d"},"mark":{"type":"circle","size":120,"color":"#000000","opacity":1},"encoding":{"x":{"field":"hmsy","type":"quantitative","scale":{"domain":[-0.9,40.9],"nice":false,"zero":false},"axis":{"title":null,"values":[0,5,10,15,20,25,30,35,40],"labels":false,"ticks":false,"gridWidth":{"condition":{"test":"datum.value % 10 === 0","value":2.2},"value":1.1}}},"y":{"field":"linf","type":"quantitative","scale":{"domain":[-0.9,40.9],"nice":false,"zero":false},"axis":{"title":null,"values":[0,5,10,15,20,25,30,35,40],"labels":false,"ticks":false,"gridWidth":{"condition":{"test":"datum.value % 10 === 0","value":2.2},"value":1.1}}}}},
{"data":{"values":[]},"mark":"point","width":16,"height":16,"view":{"stroke":null}},
{"data":{"name":"d"},"mark":{"type":"circle","size":120,"color":"#000000","opacity":1},"encoding":{"x":{"field":"shape","type":"quantitative","scale":{"domain":[-0.9,40.9],"nice":false,"zero":false},"axis":{"title":null,"values":[0,5,10,15,20,25,30,35,40],"labels":false,"ticks":false,"gridWidth":{"condition":{"test":"datum.value % 10 === 0","value":2.2},"value":1.1}}},"y":{"field":"linf","type":"quantitative","scale":{"domain":[-0.9,40.9],"nice":false,"zero":false},"axis":{"title":null,"values":[0,5,10,15,20,25,30,35,40],"labels":false,"ticks":false,"gridWidth":{"condition":{"test":"datum.value % 10 === 0","value":2.2},"value":1.1}}}}},
{"data":{"values":[]},"mark":"point","width":16,"height":16,"view":{"stroke":null}},
{"data":{"name":"d"},"mark":{"type":"circle","size":120,"color":"#000000","opacity":1},"encoding":{"x":{"field":"rlh","type":"quantitative","scale":{"domain":[-0.9,40.9],"nice":false,"zero":false},"axis":{"title":null,"values":[0,5,10,15,20,25,30,35,40],"labels":false,"ticks":false,"gridWidth":{"condition":{"test":"datum.value % 10 === 0","value":2.2},"value":1.1}}},"y":{"field":"linf","type":"quantitative","scale":{"domain":[-0.9,40.9],"nice":false,"zero":false},"axis":{"title":null,"values":[0,5,10,15,20,25,30,35,40],"labels":false,"ticks":false,"gridWidth":{"condition":{"test":"datum.value % 10 === 0","value":2.2},"value":1.1}}}}},
{"data":{"values":[]},"mark":"point","width":16,"height":16,"view":{"stroke":null}},
{"data":{"name":"d"},"transform":[{"density":"linf","bandwidth":4.93,"extent":[1,39],"steps":300}],"mark":{"type":"area","fillOpacity":0,"stroke":"#000000","strokeWidth":2.2},"encoding":{"x":{"field":"value","type":"quantitative","scale":{"domain":[-0.9,40.9],"nice":false,"zero":false},"axis":{"title":null,"values":[0,5,10,15,20,25,30,35,40],"labels":false,"ticks":false,"gridWidth":{"condition":{"test":"datum.value % 10 === 0","value":2.2},"value":1.1}}},"y":{"field":"density","type":"quantitative","scale":{"domain":[-0.00128,0.02692],"nice":false,"zero":false},"axis":{"title":null,"values":[0,0.005,0.01,0.015,0.02,0.025],"labels":false,"ticks":false,"gridWidth":{"condition":{"test":"round(datum.value*1000) % 10 === 0","value":2.2},"value":1.1}}},"y2":{"datum":0}}},
{"data":{"values":[]},"mark":"point","width":16,"height":16,"view":{"stroke":null}},
{"layer":[{"data":{"name":"d"},"mark":{"type":"circle","opacity":0},"encoding":{"x":{"field":"k","type":"quantitative","scale":{"domain":[-0.9,40.9],"nice":false,"zero":false},"axis":{"title":null,"values":[0,5,10,15,20,25,30,35,40],"labels":false,"ticks":false,"gridWidth":{"condition":{"test":"datum.value % 10 === 0","value":2.2},"value":1.1}}},"y":{"field":"linf","type":"quantitative","scale":{"domain":[-0.9,40.9],"nice":false,"zero":false},"axis":{"title":null,"values":[0,5,10,15,20,25,30,35,40],"labels":false,"ticks":false,"gridWidth":{"condition":{"test":"datum.value % 10 === 0","value":2.2},"value":1.1}}}}},{"data":{"values":[{"t":"Corr:\n0.359"}]},"mark":{"type":"text","fontSize":28,"color":"#7F7F7F","lineBreak":"\n","lineHeight":43,"baseline":"middle","dy":-20},"encoding":{"text":{"field":"t"}}}]},
{"data":{"values":[{"t":"linf"}]},"mark":{"type":"text","fontSize":23,"color":"#1A1A1A","angle":90},"encoding":{"text":{"field":"t"}},"width":46,"height":224,"view":{"fill":"#D9D9D9","stroke":"#333333"}},

{"data":{"values":[]},"mark":"point","width":16,"height":16,"view":{"stroke":null}},
{"data":{"values":[]},"mark":"point","width":16,"height":16,"view":{"stroke":null}},
{"data":{"values":[]},"mark":"point","width":16,"height":16,"view":{"stroke":null}},
{"data":{"values":[]},"mark":"point","width":16,"height":16,"view":{"stroke":null}},
{"data":{"values":[]},"mark":"point","width":16,"height":16,"view":{"stroke":null}},
{"data":{"values":[]},"mark":"point","width":16,"height":16,"view":{"stroke":null}},
{"data":{"values":[]},"mark":"point","width":16,"height":16,"view":{"stroke":null}},
{"data":{"values":[]},"mark":"point","width":16,"height":16,"view":{"stroke":null}},
{"data":{"values":[]},"mark":"point","width":16,"height":16,"view":{"stroke":null}},
{"data":{"values":[]},"mark":"point","width":16,"height":16,"view":{"stroke":null}},
{"data":{"values":[]},"mark":"point","width":16,"height":16,"view":{"stroke":null}},
{"data":{"values":[]},"mark":"point","width":16,"height":16,"view":{"stroke":null}},

{"data":{"name":"d"},"mark":{"type":"circle","size":120,"color":"#000000","opacity":1},"encoding":{"x":{"field":"r","type":"quantitative","scale":{"domain":[-0.9,40.9],"nice":false,"zero":false},"axis":{"title":null,"values":[0,5,10,15,20,25,30,35,40],"labelExpr":"datum.value % 10 === 0 ? datum.label : ''","tickOpacity":{"condition":{"test":"datum.value % 10 === 0","value":1},"value":0},"gridWidth":{"condition":{"test":"datum.value % 10 === 0","value":2.2},"value":1.1}}},"y":{"field":"k","type":"quantitative","scale":{"domain":[-0.9,40.9],"nice":false,"zero":false},"axis":{"title":null,"values":[0,5,10,15,20,25,30,35,40],"labelExpr":"datum.value % 10 === 0 ? datum.label : ''","tickOpacity":{"condition":{"test":"datum.value % 10 === 0","value":1},"value":0},"gridWidth":{"condition":{"test":"datum.value % 10 === 0","value":2.2},"value":1.1}}}}},
{"data":{"values":[]},"mark":"point","width":16,"height":16,"view":{"stroke":null}},
{"data":{"name":"d"},"mark":{"type":"circle","size":120,"color":"#000000","opacity":1},"encoding":{"x":{"field":"hmsy","type":"quantitative","scale":{"domain":[-0.9,40.9],"nice":false,"zero":false},"axis":{"title":null,"values":[0,5,10,15,20,25,30,35,40],"labelExpr":"datum.value % 10 === 0 ? datum.label : ''","tickOpacity":{"condition":{"test":"datum.value % 10 === 0","value":1},"value":0},"gridWidth":{"condition":{"test":"datum.value % 10 === 0","value":2.2},"value":1.1}}},"y":{"field":"k","type":"quantitative","scale":{"domain":[-0.9,40.9],"nice":false,"zero":false},"axis":{"title":null,"values":[0,5,10,15,20,25,30,35,40],"labels":false,"ticks":false,"gridWidth":{"condition":{"test":"datum.value % 10 === 0","value":2.2},"value":1.1}}}}},
{"data":{"values":[]},"mark":"point","width":16,"height":16,"view":{"stroke":null}},
{"data":{"name":"d"},"mark":{"type":"circle","size":120,"color":"#000000","opacity":1},"encoding":{"x":{"field":"shape","type":"quantitative","scale":{"domain":[-0.9,40.9],"nice":false,"zero":false},"axis":{"title":null,"values":[0,5,10,15,20,25,30,35,40],"labelExpr":"datum.value % 10 === 0 ? datum.label : ''","tickOpacity":{"condition":{"test":"datum.value % 10 === 0","value":1},"value":0},"gridWidth":{"condition":{"test":"datum.value % 10 === 0","value":2.2},"value":1.1}}},"y":{"field":"k","type":"quantitative","scale":{"domain":[-0.9,40.9],"nice":false,"zero":false},"axis":{"title":null,"values":[0,5,10,15,20,25,30,35,40],"labels":false,"ticks":false,"gridWidth":{"condition":{"test":"datum.value % 10 === 0","value":2.2},"value":1.1}}}}},
{"data":{"values":[]},"mark":"point","width":16,"height":16,"view":{"stroke":null}},
{"data":{"name":"d"},"mark":{"type":"circle","size":120,"color":"#000000","opacity":1},"encoding":{"x":{"field":"rlh","type":"quantitative","scale":{"domain":[-0.9,40.9],"nice":false,"zero":false},"axis":{"title":null,"values":[0,5,10,15,20,25,30,35,40],"labelExpr":"datum.value % 10 === 0 ? datum.label : ''","tickOpacity":{"condition":{"test":"datum.value % 10 === 0","value":1},"value":0},"gridWidth":{"condition":{"test":"datum.value % 10 === 0","value":2.2},"value":1.1}}},"y":{"field":"k","type":"quantitative","scale":{"domain":[-0.9,40.9],"nice":false,"zero":false},"axis":{"title":null,"values":[0,5,10,15,20,25,30,35,40],"labels":false,"ticks":false,"gridWidth":{"condition":{"test":"datum.value % 10 === 0","value":2.2},"value":1.1}}}}},
{"data":{"values":[]},"mark":"point","width":16,"height":16,"view":{"stroke":null}},
{"data":{"name":"d"},"mark":{"type":"circle","size":120,"color":"#000000","opacity":1},"encoding":{"x":{"field":"linf","type":"quantitative","scale":{"domain":[-0.9,40.9],"nice":false,"zero":false},"axis":{"title":null,"values":[0,5,10,15,20,25,30,35,40],"labelExpr":"datum.value % 10 === 0 ? datum.label : ''","tickOpacity":{"condition":{"test":"datum.value % 10 === 0","value":1},"value":0},"gridWidth":{"condition":{"test":"datum.value % 10 === 0","value":2.2},"value":1.1}}},"y":{"field":"k","type":"quantitative","scale":{"domain":[-0.9,40.9],"nice":false,"zero":false},"axis":{"title":null,"values":[0,5,10,15,20,25,30,35,40],"labels":false,"ticks":false,"gridWidth":{"condition":{"test":"datum.value % 10 === 0","value":2.2},"value":1.1}}}}},
{"data":{"values":[]},"mark":"point","width":16,"height":16,"view":{"stroke":null}},
{"data":{"name":"d"},"transform":[{"density":"k","bandwidth":4.93,"extent":[1,39],"steps":300}],"mark":{"type":"area","fillOpacity":0,"stroke":"#000000","strokeWidth":2.2},"encoding":{"x":{"field":"value","type":"quantitative","scale":{"domain":[-0.9,40.9],"nice":false,"zero":false},"axis":{"title":null,"values":[0,5,10,15,20,25,30,35,40],"labelExpr":"datum.value % 10 === 0 ? datum.label : ''","tickOpacity":{"condition":{"test":"datum.value % 10 === 0","value":1},"value":0},"gridWidth":{"condition":{"test":"datum.value % 10 === 0","value":2.2},"value":1.1}}},"y":{"field":"density","type":"quantitative","scale":{"domain":[-0.00128,0.02692],"nice":false,"zero":false},"axis":{"title":null,"values":[0,0.005,0.01,0.015,0.02,0.025],"labels":false,"ticks":false,"gridWidth":{"condition":{"test":"round(datum.value*1000) % 10 === 0","value":2.2},"value":1.1}}},"y2":{"datum":0}}},
{"data":{"values":[{"t":"k"}]},"mark":{"type":"text","fontSize":23,"color":"#1A1A1A","angle":90},"encoding":{"text":{"field":"t"}},"width":46,"height":224,"view":{"fill":"#D9D9D9","stroke":"#333333"}}
],
"config": {
"font": "Liberation Sans",
"view": {"continuousWidth": 220, "continuousHeight": 224, "stroke": "#333333", "strokeWidth": 1.3},
"axis": {"domain": false, "gridColor": "#EBEBEB", "tickColor": "#333333", "tickSize": 6, "tickWidth": 1.4, "labelColor": "#4D4D4D", "labelFontSize": 21, "labelPadding": 6, "labelFlush": false, "labelOverlap": false, "labelFont": "Liberation Sans"}
}
}
